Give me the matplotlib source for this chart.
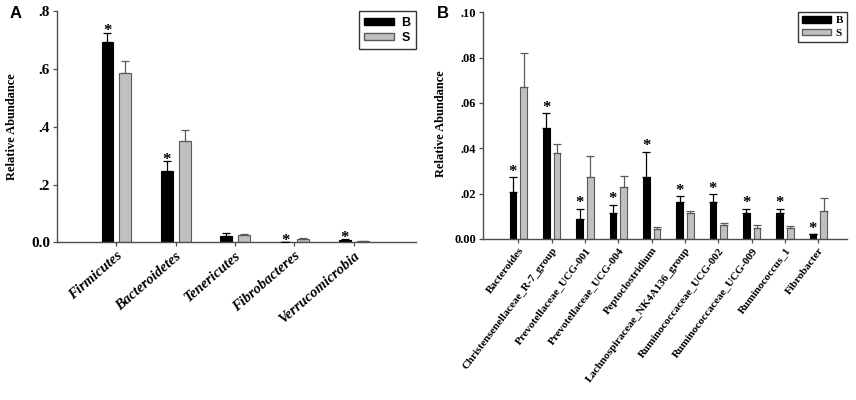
import matplotlib
matplotlib.use("Agg")
import matplotlib.pyplot as plt
import numpy as np
from matplotlib.patches import Patch

# ---------------- data ----------------
phyla = ["Firmicutes", "Bacteroidetes", "Tenericutes", "Fibrobacteres", "Verrucomicrobia"]
phyla_B = [0.694, 0.246, 0.022, 0.001, 0.008]
phyla_B_err = [0.031, 0.036, 0.010, 0.000, 0.004]
phyla_S = [0.585, 0.350, 0.024, 0.012, 0.004]
phyla_S_err = [0.043, 0.038, 0.004, 0.004, 0.001]
phyla_star = [True, True, False, True, True]
phyla_yticks = [0.0, 0.2, 0.4, 0.6, 0.8]
phyla_yticklabels = ["0.0", ".2", ".4", ".6", ".8"]

genera = ["Bacteroides", "Christensenellaceae_R-7_group", "Prevotellaceae_UCG-001",
          "Prevotellaceae_UCG-004", "Peptoclostridium", "Lachnospiraceae_NK4A136_group",
          "Ruminococcaceae_UCG-002", "Ruminococcaceae_UCG-009", "Ruminococcus_1", "Fibrobacter"]
genera_B = [0.0205, 0.0490, 0.0088, 0.0116, 0.0272, 0.0162, 0.0163, 0.0115, 0.0115, 0.0019]
genera_B_err = [0.0066, 0.0064, 0.0045, 0.0034, 0.0112, 0.0025, 0.0033, 0.0018, 0.0018, 0.0]
genera_S = [0.0670, 0.0377, 0.0274, 0.0227, 0.0043, 0.0112, 0.0059, 0.0046, 0.0047, 0.0122]
genera_S_err = [0.0152, 0.0043, 0.0093, 0.0051, 0.0010, 0.0013, 0.0012, 0.0014, 0.0010, 0.0058]
genera_star = [True] * 10
genera_yticks = [0.0, 0.02, 0.04, 0.06, 0.08, 0.10]
genera_yticklabels = ["0.00", ".02", ".04", ".06", ".08", ".10"]

group_labels = ["B", "S"]

# ---------------- style ----------------
SERIF = ["Liberation Serif", "DejaVu Serif"]
SANS = ["Liberation Sans", "DejaVu Sans"]
BLACK = "#000000"
GRAY = "#c0c0c0"
GRAY_EDGE = "#5a5a5a"
SPINE = "#4d4d4d"

fig = plt.figure(figsize=(8.56, 4.0), dpi=100)
axA = fig.add_axes([0.0666, 0.394, 0.4194, 0.5785])
axB = fig.add_axes([0.5646, 0.403, 0.4245, 0.566])


def draw_panel(ax, cats, bv, be, sv, se, stars, yticks, yticklabels, ylim, xlim,
               width, off, star_off, ytick_size, xfont, xrot, legend_font, leg_kw):
    x = np.arange(1, len(cats) + 1)
    ax.bar(x - off, bv, width, color=BLACK, edgecolor=BLACK, linewidth=0.8, zorder=2)
    ax.bar(x + off, sv, width, color=GRAY, edgecolor=GRAY_EDGE, linewidth=0.8, zorder=2)
    ax.errorbar(x - off, bv, yerr=[np.zeros(len(bv)), be], fmt="none", ecolor=BLACK,
                elinewidth=0.9, capsize=3.2, capthick=0.9, zorder=3)
    ax.errorbar(x + off, sv, yerr=[np.zeros(len(sv)), se], fmt="none", ecolor=GRAY_EDGE,
                elinewidth=0.9, capsize=3.2, capthick=0.9, zorder=3)
    for xi, v, e, s in zip(x, bv, be, stars):
        if s:
            ax.annotate("*", (xi - off, v + e), xytext=(0, star_off), textcoords="offset points",
                        ha="center", va="baseline", fontsize=12, fontweight="bold",
                        family=SERIF)
    ax.set_xlim(*xlim)
    ax.set_ylim(*ylim)
    ax.set_yticks(yticks)
    ax.set_yticklabels(yticklabels, family=SERIF, fontweight="bold", fontsize=ytick_size)
    ax.set_xticks(x)
    ax.set_xticklabels(cats, rotation=xrot, ha="right", rotation_mode="anchor", **xfont)
    for side in ("top", "right"):
        ax.spines[side].set_visible(False)
    for side in ("left", "bottom"):
        ax.spines[side].set_color(SPINE)
        ax.spines[side].set_linewidth(1.0)
    ax.tick_params(direction="out", length=3, width=0.9, color=SPINE, pad=2)
    ax.set_ylabel("Relative Abundance", family=SERIF, fontweight="bold", fontsize=9)
    handles = [Patch(facecolor=BLACK, edgecolor=BLACK), Patch(facecolor=GRAY, edgecolor=GRAY_EDGE)]
    leg = ax.legend(handles, group_labels, loc="upper right", bbox_to_anchor=(1.0, 1.0),
                    borderaxespad=0, frameon=True, fancybox=False, prop=legend_font, **leg_kw)
    leg.get_frame().set_edgecolor("#000000")
    leg.get_frame().set_linewidth(1.0)


draw_panel(axA, phyla, phyla_B, phyla_B_err, phyla_S, phyla_S_err, phyla_star,
           phyla_yticks, phyla_yticklabels, (0, 0.8), (0, 6.05), 0.2, 0.15, -2, 11,
           dict(family=SERIF, fontweight="bold", style="italic", fontsize=10.5), 41,
           dict(family=SANS, weight="bold", size=9),
           dict(handlelength=2.4, handleheight=0.5, labelspacing=0.25, borderpad=0.45,
                handletextpad=0.55))
draw_panel(axB, genera, genera_B, genera_B_err, genera_S, genera_S_err, genera_star,
           genera_yticks, genera_yticklabels, (0, 0.10), (-0.05, 10.85), 0.2, 0.16, 1, 9,
           dict(family=SERIF, fontweight="bold", fontsize=8), 53,
           dict(family=SERIF, weight="bold", size=8),
           dict(handlelength=2.6, handleheight=0.5, labelspacing=0.3, borderpad=0.35,
                handletextpad=0.4))

axA.yaxis.set_label_coords(-0.109, 0.5)
axB.yaxis.set_label_coords(-0.100, 0.51)

fig.text(0.0117, 0.967, "A", family=SANS, fontweight="bold", fontsize=12, ha="left", va="center")
fig.text(0.5105, 0.967, "B", family=SANS, fontweight="bold", fontsize=12, ha="left", va="center")

fig.savefig("out.png", dpi=100)
